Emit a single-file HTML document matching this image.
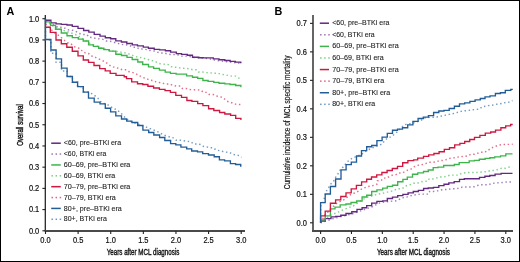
<!DOCTYPE html>
<html><head><meta charset="utf-8"><style>
html,body{margin:0;padding:0;background:#fff;}
svg text{font-family:"Liberation Sans",sans-serif;}
svg{will-change:transform;}
.tk{font-size:8.3px;fill:#111;stroke:#111;stroke-width:0.2px}
.at{fill:#111;stroke:#111;stroke-width:0.38px}
.at2{fill:#1a1a1a;stroke:#1a1a1a;stroke-width:0.2px}
.lg{font-size:7px;fill:#222;stroke:#222;stroke-width:0.1px}
</style></head><body>
<svg width="520" height="262" viewBox="0 0 520 262" style="display:block">
<rect x="0" y="0" width="520" height="262" fill="#fff"/>
<rect x="0.5" y="0.5" width="519" height="261" fill="none" stroke="#000" stroke-width="1"/>
<text x="6.5" y="14.6" font-size="10.8" font-weight="bold" fill="#000">A</text>
<text x="274.4" y="14.8" font-size="10.8" font-weight="bold" fill="#000">B</text>
<path d="M45.3,15V231" fill="none" stroke="#1e1e1e" stroke-width="1.25"/>
<path d="M44.7,231H245" fill="none" stroke="#4a4a4a" stroke-width="1.8"/>
<path d="M42.4,230.80H45.3" stroke="#222" stroke-width="1.1"/>
<text x="39.3" y="233.70" class="tk" text-anchor="end" textLength="10.4" lengthAdjust="spacingAndGlyphs">0.0</text>
<path d="M42.4,209.59H45.3" stroke="#222" stroke-width="1.1"/>
<text x="39.3" y="212.49" class="tk" text-anchor="end" textLength="10.4" lengthAdjust="spacingAndGlyphs">0.1</text>
<path d="M42.4,188.38H45.3" stroke="#222" stroke-width="1.1"/>
<text x="39.3" y="191.28" class="tk" text-anchor="end" textLength="10.4" lengthAdjust="spacingAndGlyphs">0.2</text>
<path d="M42.4,167.17H45.3" stroke="#222" stroke-width="1.1"/>
<text x="39.3" y="170.07" class="tk" text-anchor="end" textLength="10.4" lengthAdjust="spacingAndGlyphs">0.3</text>
<path d="M42.4,145.96H45.3" stroke="#222" stroke-width="1.1"/>
<text x="39.3" y="148.86" class="tk" text-anchor="end" textLength="10.4" lengthAdjust="spacingAndGlyphs">0.4</text>
<path d="M42.4,124.75H45.3" stroke="#222" stroke-width="1.1"/>
<text x="39.3" y="127.65" class="tk" text-anchor="end" textLength="10.4" lengthAdjust="spacingAndGlyphs">0.5</text>
<path d="M42.4,103.54H45.3" stroke="#222" stroke-width="1.1"/>
<text x="39.3" y="106.44" class="tk" text-anchor="end" textLength="10.4" lengthAdjust="spacingAndGlyphs">0.6</text>
<path d="M42.4,82.33H45.3" stroke="#222" stroke-width="1.1"/>
<text x="39.3" y="85.23" class="tk" text-anchor="end" textLength="10.4" lengthAdjust="spacingAndGlyphs">0.7</text>
<path d="M42.4,61.12H45.3" stroke="#222" stroke-width="1.1"/>
<text x="39.3" y="64.02" class="tk" text-anchor="end" textLength="10.4" lengthAdjust="spacingAndGlyphs">0.8</text>
<path d="M42.4,39.91H45.3" stroke="#222" stroke-width="1.1"/>
<text x="39.3" y="42.81" class="tk" text-anchor="end" textLength="10.4" lengthAdjust="spacingAndGlyphs">0.9</text>
<path d="M42.4,18.70H45.3" stroke="#222" stroke-width="1.1"/>
<text x="39.3" y="21.60" class="tk" text-anchor="end" textLength="10.4" lengthAdjust="spacingAndGlyphs">1.0</text>
<path d="M45.50,231V234" stroke="#222" stroke-width="1.1"/>
<text x="45.50" y="242.6" class="tk" text-anchor="middle" textLength="10.4" lengthAdjust="spacingAndGlyphs">0.0</text>
<path d="M78.12,231V234" stroke="#222" stroke-width="1.1"/>
<text x="78.12" y="242.6" class="tk" text-anchor="middle" textLength="10.4" lengthAdjust="spacingAndGlyphs">0.5</text>
<path d="M110.73,231V234" stroke="#222" stroke-width="1.1"/>
<text x="110.73" y="242.6" class="tk" text-anchor="middle" textLength="10.4" lengthAdjust="spacingAndGlyphs">1.0</text>
<path d="M143.34,231V234" stroke="#222" stroke-width="1.1"/>
<text x="143.34" y="242.6" class="tk" text-anchor="middle" textLength="10.4" lengthAdjust="spacingAndGlyphs">1.5</text>
<path d="M175.96,231V234" stroke="#222" stroke-width="1.1"/>
<text x="175.96" y="242.6" class="tk" text-anchor="middle" textLength="10.4" lengthAdjust="spacingAndGlyphs">2.0</text>
<path d="M208.58,231V234" stroke="#222" stroke-width="1.1"/>
<text x="208.58" y="242.6" class="tk" text-anchor="middle" textLength="10.4" lengthAdjust="spacingAndGlyphs">2.5</text>
<path d="M241.19,231V234" stroke="#222" stroke-width="1.1"/>
<text x="241.19" y="242.6" class="tk" text-anchor="middle" textLength="10.4" lengthAdjust="spacingAndGlyphs">3.0</text>
<text x="106.7" y="255.2" class="at" font-size="9" textLength="72.7" lengthAdjust="spacingAndGlyphs">Years after MCL diagnosis</text>
<text transform="translate(23,145.8) rotate(-90)" x="0" y="0" class="at" font-size="9.6" textLength="41.6" lengthAdjust="spacingAndGlyphs">Overall survival</text>
<path d="M313,15V231.9" fill="none" stroke="#555" stroke-width="1.8"/>
<path d="M312.1,231H513" fill="none" stroke="#4a4a4a" stroke-width="1.8"/>
<path d="M310,222.80H312.9" stroke="#222" stroke-width="1.1"/>
<text x="306.9" y="225.70" class="tk" text-anchor="end" textLength="10.4" lengthAdjust="spacingAndGlyphs">0.0</text>
<path d="M310,194.31H312.9" stroke="#222" stroke-width="1.1"/>
<text x="306.9" y="197.21" class="tk" text-anchor="end" textLength="10.4" lengthAdjust="spacingAndGlyphs">0.1</text>
<path d="M310,165.82H312.9" stroke="#222" stroke-width="1.1"/>
<text x="306.9" y="168.72" class="tk" text-anchor="end" textLength="10.4" lengthAdjust="spacingAndGlyphs">0.2</text>
<path d="M310,137.33H312.9" stroke="#222" stroke-width="1.1"/>
<text x="306.9" y="140.23" class="tk" text-anchor="end" textLength="10.4" lengthAdjust="spacingAndGlyphs">0.3</text>
<path d="M310,108.84H312.9" stroke="#222" stroke-width="1.1"/>
<text x="306.9" y="111.74" class="tk" text-anchor="end" textLength="10.4" lengthAdjust="spacingAndGlyphs">0.4</text>
<path d="M310,80.35H312.9" stroke="#222" stroke-width="1.1"/>
<text x="306.9" y="83.25" class="tk" text-anchor="end" textLength="10.4" lengthAdjust="spacingAndGlyphs">0.5</text>
<path d="M310,51.86H312.9" stroke="#222" stroke-width="1.1"/>
<text x="306.9" y="54.76" class="tk" text-anchor="end" textLength="10.4" lengthAdjust="spacingAndGlyphs">0.6</text>
<path d="M310,23.37H312.9" stroke="#222" stroke-width="1.1"/>
<text x="306.9" y="26.27" class="tk" text-anchor="end" textLength="10.4" lengthAdjust="spacingAndGlyphs">0.7</text>
<path d="M320.60,231V234" stroke="#222" stroke-width="1.1"/>
<text x="320.60" y="242.6" class="tk" text-anchor="middle" textLength="10.4" lengthAdjust="spacingAndGlyphs">0.0</text>
<path d="M351.47,231V234" stroke="#222" stroke-width="1.1"/>
<text x="351.47" y="242.6" class="tk" text-anchor="middle" textLength="10.4" lengthAdjust="spacingAndGlyphs">0.5</text>
<path d="M382.33,231V234" stroke="#222" stroke-width="1.1"/>
<text x="382.33" y="242.6" class="tk" text-anchor="middle" textLength="10.4" lengthAdjust="spacingAndGlyphs">1.0</text>
<path d="M413.20,231V234" stroke="#222" stroke-width="1.1"/>
<text x="413.20" y="242.6" class="tk" text-anchor="middle" textLength="10.4" lengthAdjust="spacingAndGlyphs">1.5</text>
<path d="M444.06,231V234" stroke="#222" stroke-width="1.1"/>
<text x="444.06" y="242.6" class="tk" text-anchor="middle" textLength="10.4" lengthAdjust="spacingAndGlyphs">2.0</text>
<path d="M474.93,231V234" stroke="#222" stroke-width="1.1"/>
<text x="474.93" y="242.6" class="tk" text-anchor="middle" textLength="10.4" lengthAdjust="spacingAndGlyphs">2.5</text>
<path d="M505.79,231V234" stroke="#222" stroke-width="1.1"/>
<text x="505.79" y="242.6" class="tk" text-anchor="middle" textLength="10.4" lengthAdjust="spacingAndGlyphs">3.0</text>
<text x="377" y="255.2" class="at" font-size="9" textLength="73" lengthAdjust="spacingAndGlyphs">Years after MCL diagnosis</text>
<text transform="translate(289.7,189.2) rotate(-90)" x="0" y="0" class="at2" font-size="8.6" textLength="133.7" lengthAdjust="spacingAndGlyphs">Cumulative incidence of MCL specific mortality</text>
<path d="M45.50,20.60L50.00,22.50L54.00,25.00L57.80,27.20L61.80,27.20L65.30,28.30L67.60,29.80L71.60,30.10L75.70,31.20L79.00,33.40L83.30,34.50L87.10,34.70L88.60,37.10L92.40,37.60L95.80,38.40L99.60,38.90L103.00,39.40L105.90,41.00L109.30,41.00L112.60,41.90L116.00,42.90L119.50,43.80L123.00,44.60L127.10,45.00L130.00,45.60L132.90,47.30L136.90,47.30L139.20,49.00L142.70,49.00L146.70,49.60L150.20,50.50L154.20,51.00L159.60,52.90L163.70,52.90L167.10,53.80L170.60,54.40L175.20,54.40L178.60,55.00L181.50,56.10L189.00,56.10L193.00,57.50L203.00,58.00L210.40,59.00L214.20,60.00L225.30,61.50L236.30,62.90L241.50,63.00" fill="none" stroke="#6e3a92" stroke-width="1.45" stroke-dasharray="1.45 2.65" opacity="0.66"/>
<path d="M45.50,21.00L50.00,24.00L55.00,27.50L59.00,28.90L62.00,30.00L66.50,31.20L71.10,33.00L77.40,35.30L83.00,39.00L90.50,43.90L97.20,46.30L102.00,48.20L111.70,51.10L119.30,51.60L122.20,52.50L126.30,53.10L129.80,54.20L132.70,55.40L135.20,56.30L138.60,57.50L142.70,57.70L145.60,59.10L150.00,60.00L155.40,61.60L160.00,63.70L164.60,64.30L168.60,64.70L170.90,66.60L175.00,67.20L178.40,67.50L181.90,68.30L185.90,68.40L189.50,68.80L192.50,69.70L196.50,69.70L198.30,72.00L202.30,72.00L205.80,72.60L209.80,72.80L213.80,73.20L217.90,73.20L221.30,74.30L224.80,74.70L228.30,75.50L231.70,76.10L235.70,76.10L238.10,77.80L241.50,79.00" fill="none" stroke="#40b84e" stroke-width="1.45" stroke-dasharray="1.45 2.65" opacity="0.66"/>
<path d="M45.50,24.00L50.00,28.00L53.20,31.80L60.10,36.40L64.70,40.50L67.60,42.80L70.50,43.50L74.50,46.80L78.60,48.00L80.20,50.20L83.10,50.80L85.40,53.10L88.80,53.70L91.10,56.00L94.00,56.50L96.90,58.30L99.80,59.40L102.70,60.60L105.60,62.30L108.40,64.00L110.80,66.30L113.10,66.90L115.90,67.50L119.40,68.60L122.30,69.80L126.30,69.80L128.60,71.50L132.20,72.40L135.80,73.50L138.10,75.30L141.00,76.40L143.30,77.60L146.70,78.70L149.60,80.20L153.10,80.50L156.00,81.80L159.40,82.50L162.50,83.20L165.80,84.00L170.00,84.00L172.70,85.30L176.20,86.10L180.40,86.00L182.30,88.50L186.20,88.50L189.40,89.50L193.10,89.80L197.20,89.80L201.00,90.30L203.30,92.30L206.90,92.40L209.20,94.50L213.30,94.50L216.10,95.90L219.60,96.60L222.50,97.40L224.80,99.20L227.10,101.30L230.00,102.10L233.40,103.30L236.30,104.40L241.50,104.40" fill="none" stroke="#d42048" stroke-width="1.45" stroke-dasharray="1.45 2.65" opacity="0.66"/>
<path d="M45.50,18.70L45.50,40.00L50.90,40.00L50.90,53.30L56.10,53.30L56.10,62.30L61.50,62.30L61.50,71.00L67.10,71.00L67.10,76.50L72.40,76.50L72.40,82.20L77.60,82.20L77.60,86.60L83.30,86.60L83.30,91.70L87.90,91.70L93.60,94.60L97.70,98.10L101.70,102.70L107.50,104.60L110.60,106.70L115.00,109.00L120.40,112.40L125.60,118.20L129.60,121.10L134.20,122.80L140.00,125.00L147.50,127.50L153.30,129.80L158.50,132.10L163.60,135.00L167.10,136.10L170.60,137.30L174.00,137.90L176.30,140.20L180.40,140.20L183.80,140.80L186.70,141.30L190.80,141.70L193.50,144.00L197.50,144.00L201.00,144.60L203.30,146.30L206.70,146.90L210.20,147.80L213.60,147.80L216.00,150.10L219.40,150.60L222.90,151.50L225.80,152.10L229.80,152.50L232.70,154.40L236.10,154.80L239.00,155.60L241.50,157.30" fill="none" stroke="#2e69a4" stroke-width="1.45" stroke-dasharray="1.45 2.65" opacity="0.66"/>
<path d="M45.50,20.20L50.90,20.20L50.90,22.80L56.10,22.80L56.10,23.90L61.30,23.90L61.30,24.30L67.00,24.30L67.00,25.00L72.30,25.00L72.30,26.40L78.00,26.40L78.00,28.40L83.60,28.40L83.60,30.50L88.80,30.50L88.80,32.10L94.20,32.10L94.20,34.40L100.00,34.40L100.00,36.10L105.30,36.10L105.30,37.70L110.60,37.70L110.60,38.70L115.80,38.70L115.80,40.80L121.40,40.80L121.40,42.00L126.80,42.00L126.80,43.50L132.30,43.50L132.30,44.80L137.50,44.80L137.50,45.90L143.30,45.90L143.30,47.10L148.40,47.10L148.40,48.20L154.20,48.20L154.20,49.40L159.60,49.40L159.60,49.80L165.40,49.80L165.40,50.70L170.60,50.70L170.60,52.10L176.30,52.10L176.30,53.60L181.50,53.60L181.50,54.40L187.30,54.40L187.30,55.20L192.50,55.20L192.50,57.20L198.80,57.20L198.80,57.70L203.40,57.70L203.40,57.90L213.30,57.90L213.30,58.80L219.00,58.80L219.00,59.70L224.80,59.70L224.80,60.50L230.10,60.50L230.10,61.40L235.40,61.40L235.40,62.10L240.70,62.10L240.70,62.60L241.50,62.60" fill="none" stroke="#63287f" stroke-width="1.35"/>
<path d="M45.50,21.90L50.60,21.90L50.60,25.40L55.50,25.40L55.50,29.20L61.30,29.20L61.30,33.00L67.00,33.00L67.00,35.70L72.30,35.70L72.30,37.60L78.30,37.60L78.30,39.10L83.20,39.10L83.20,41.00L88.60,41.00L88.60,44.80L93.40,44.80L93.40,46.30L98.70,46.30L98.70,48.20L103.80,48.20L103.80,49.60L109.30,49.60L109.30,51.10L115.80,51.10L115.80,54.20L121.50,54.20L121.50,55.50L127.00,55.50L127.00,57.30L132.20,57.30L132.20,59.50L137.80,59.50L137.80,62.00L142.70,62.00L142.70,64.50L148.50,64.50L148.50,66.80L153.60,66.80L153.60,68.30L159.40,68.30L159.40,70.10L165.20,70.10L165.20,72.10L170.40,72.10L170.40,73.30L176.10,73.30L176.10,74.10L186.60,74.10L186.60,75.80L192.50,75.80L192.50,77.20L197.70,77.20L197.70,78.40L202.90,78.40L202.90,80.50L208.10,80.50L208.10,81.30L213.80,81.30L213.80,82.40L219.00,82.40L219.00,83.20L224.80,83.20L224.80,83.90L230.00,83.90L230.00,84.50L235.70,84.50L235.70,85.50L240.90,85.50L240.90,86.50L241.50,86.50" fill="none" stroke="#3db54b" stroke-width="1.35"/>
<path d="M45.50,27.20L50.30,27.20L50.30,32.40L56.00,32.40L56.00,40.00L61.30,40.00L61.30,43.70L66.80,43.70L66.80,47.20L72.30,47.20L72.30,51.20L78.00,51.20L78.00,55.80L83.30,55.80L83.30,60.00L88.50,60.00L88.50,62.30L94.00,62.30L94.00,65.50L99.70,65.50L99.70,68.60L105.20,68.60L105.20,70.80L110.20,70.80L110.20,73.30L116.00,73.30L116.00,75.30L124.20,75.30L124.20,76.70L126.50,76.70L126.50,78.60L131.70,78.60L131.70,81.80L137.50,81.80L137.50,83.70L142.70,83.70L142.70,84.50L147.90,84.50L147.90,86.20L153.60,86.20L153.60,88.00L159.40,88.00L159.40,89.30L165.00,89.30L165.00,90.60L170.40,90.60L170.40,92.30L175.80,92.30L175.80,95.40L181.50,95.40L181.50,97.30L186.90,97.30L186.90,100.50L191.90,100.50L191.90,101.30L197.70,101.30L197.70,103.60L202.90,103.60L202.90,105.60L208.60,105.60L208.60,108.70L213.80,108.70L213.80,110.50L219.60,110.50L219.60,112.50L224.80,112.50L224.80,114.00L230.60,114.00L230.60,115.40L235.70,115.40L235.70,118.30L240.90,118.30L240.90,119.40L241.50,119.40" fill="none" stroke="#cf1841" stroke-width="1.35"/>
<path d="M45.50,18.70L45.50,18.70L45.50,39.50L50.90,39.50L50.90,50.00L56.10,50.00L56.10,58.80L61.50,58.80L61.50,68.10L67.10,68.10L67.10,76.50L72.40,76.50L72.40,82.20L77.60,82.20L77.60,86.60L83.30,86.60L83.30,92.10L88.50,92.10L88.50,98.10L94.20,98.10L94.20,102.10L100.00,102.10L100.00,103.80L105.30,103.80L105.30,108.20L110.60,108.20L110.60,111.80L115.80,111.80L115.80,115.90L121.50,115.90L121.50,119.00L126.70,119.00L126.70,121.10L131.90,121.10L131.90,122.50L137.70,122.50L137.70,125.50L142.90,125.50L142.90,130.10L148.70,130.10L148.70,132.50L153.80,132.50L153.80,135.00L159.60,135.00L159.60,137.50L164.80,137.50L164.80,140.50L170.60,140.50L170.60,143.60L175.80,143.60L175.80,144.80L180.90,144.80L180.90,147.10L186.70,147.10L186.70,148.80L191.70,148.80L191.70,151.00L197.50,151.00L197.50,151.80L202.70,151.80L202.70,153.60L208.50,153.60L208.50,155.00L214.20,155.00L214.20,156.70L219.40,156.70L219.40,159.80L224.60,159.80L224.60,160.80L230.40,160.80L230.40,163.60L235.60,163.60L235.60,164.50L240.70,164.50L240.70,166.00L241.50,166.00" fill="none" stroke="#235d98" stroke-width="1.35"/>
<path d="M320.60,222.80L334.20,218.30L353.50,213.50L372.70,206.50L379.20,203.10L385.00,201.90L389.60,201.30L396.50,200.80L402.30,197.90L405.80,197.30L412.70,195.20L418.40,194.40L420.00,194.10L428.70,194.10L429.60,191.40L433.50,191.40L437.30,190.90L440.20,190.20L444.00,189.50L447.90,189.50L451.30,188.70L455.60,188.70L459.40,188.30L462.30,187.00L470.40,187.00L474.10,186.80L477.40,185.50L480.60,184.80L488.70,184.80L491.40,183.50L495.70,183.00L499.40,182.70L503.20,182.50L507.00,181.90L512.50,181.90" fill="none" stroke="#6e3a92" stroke-width="1.45" stroke-dasharray="1.45 2.65" opacity="0.66"/>
<path d="M320.60,222.80L325.00,219.00L330.40,215.40L343.80,209.60L353.50,205.80L363.30,199.20L367.90,196.90L371.70,196.10L376.90,194.40L382.70,193.30L387.30,192.10L392.50,191.00L397.70,188.70L402.30,188.70L404.60,186.30L410.50,184.50L413.40,183.30L417.30,183.30L420.20,182.10L423.40,181.30L427.70,181.30L429.10,178.90L433.00,178.90L436.80,177.90L440.20,177.00L443.60,177.00L447.40,176.00L450.00,175.10L458.20,175.10L461.80,173.30L465.00,172.80L468.20,172.50L476.30,172.50L480.10,172.20L483.80,171.90L487.60,171.50L490.80,170.40L494.60,170.40L498.40,169.30L501.60,168.20L505.40,168.20L508.60,167.20L512.50,166.80" fill="none" stroke="#40b84e" stroke-width="1.45" stroke-dasharray="1.45 2.65" opacity="0.66"/>
<path d="M320.60,222.80L325.00,215.00L330.40,209.60L337.30,202.70L343.70,199.80L350.60,194.60L356.40,192.30L362.10,188.80L367.90,186.50L371.70,186.00L376.90,184.20L377.40,180.70L381.20,180.70L383.10,178.10L387.00,178.10L389.40,176.30L392.30,175.20L396.10,174.60L398.50,173.00L402.40,173.00L405.30,171.50L407.70,170.10L411.00,169.10L413.40,166.90L416.30,166.30L419.20,164.80L423.10,164.50L426.40,163.30L429.30,162.30L433.20,162.30L436.50,161.70L439.90,160.50L443.70,160.40L447.10,159.40L450.10,158.30L454.10,157.80L457.60,157.10L461.00,156.70L464.40,156.30L468.30,155.80L470.70,154.20L474.50,154.20L477.90,153.20L481.20,152.20L485.10,152.20L487.50,150.00L490.40,149.30L492.80,147.40L495.70,146.20L498.50,145.20L502.40,144.50L512.70,144.30" fill="none" stroke="#d42048" stroke-width="1.45" stroke-dasharray="1.45 2.65" opacity="0.66"/>
<path d="M320.60,222.80L320.70,206.00L322.70,203.80L326.40,191.10L331.00,183.70L333.30,181.90L336.20,176.20L338.10,173.80L341.00,168.60L343.30,166.90L346.70,162.30L351.30,158.80L357.10,156.00L361.10,154.80L364.60,151.90L369.80,149.00L376.00,146.50L382.10,144.00L385.60,139.40L391.30,136.50L396.00,133.10L400.00,129.00L404.20,124.80L410.00,123.60L415.20,122.50L420.40,120.80L425.00,117.90L429.60,117.30L434.20,117.30L438.80,116.70L443.40,115.60L449.20,114.40L454.40,113.30L460.70,111.40L464.70,110.80L469.30,110.30L475.10,109.50L479.70,109.10L482.00,106.80L486.60,106.00L488.20,105.60L492.20,105.20L495.40,104.40L499.10,104.00L502.30,103.40L505.90,102.40L509.60,102.10L512.50,100.50" fill="none" stroke="#2e69a4" stroke-width="1.45" stroke-dasharray="1.45 2.65" opacity="0.66"/>
<path d="M320.60,221.00L325.20,221.00L325.20,218.60L331.00,218.60L331.00,216.90L335.60,216.90L335.60,216.30L340.80,216.30L340.80,215.20L346.00,215.20L346.00,213.50L351.80,213.50L351.80,211.70L357.00,211.70L357.00,209.40L362.10,209.40L362.10,207.70L366.70,207.70L366.70,205.60L371.70,205.60L371.70,203.10L376.90,203.10L376.90,201.30L382.70,201.30L382.70,200.80L387.30,200.80L387.30,198.50L392.50,198.50L392.50,197.10L397.70,197.10L397.70,195.60L402.90,195.60L402.90,194.40L408.10,194.40L408.10,192.90L413.30,192.90L413.30,191.50L418.40,191.50L418.40,190.40L423.60,190.40L423.60,190.40L423.60,188.50L428.20,188.50L428.20,188.00L433.50,188.00L433.50,187.30L438.80,187.30L438.80,185.60L444.00,185.60L444.00,184.20L448.80,184.20L448.80,182.80L454.20,182.80L454.20,181.60L459.50,181.60L459.50,179.40L464.30,179.40L464.30,178.70L479.50,178.70L479.50,177.30L484.90,177.30L484.90,176.20L489.80,176.20L489.80,175.50L495.10,175.50L495.10,174.10L501.10,174.10L501.10,173.30L512.50,173.30" fill="none" stroke="#63287f" stroke-width="1.35"/>
<path d="M320.60,219.80L325.20,219.80L325.20,215.80L330.40,215.80L330.40,208.80L335.00,208.80L335.00,207.10L340.20,207.10L340.20,204.80L346.00,204.80L346.00,204.00L351.00,204.00L351.00,202.50L356.60,202.50L356.60,201.00L362.10,201.00L362.10,197.00L366.70,197.00L366.70,195.20L371.70,195.20L371.70,191.50L376.90,191.50L376.90,189.80L382.70,189.80L382.70,188.10L387.30,188.10L387.30,186.30L392.50,186.30L392.50,185.20L397.70,185.20L397.70,181.70L402.90,181.70L402.90,179.40L407.30,179.40L407.30,177.10L412.50,177.10L412.50,174.20L417.70,174.20L417.70,172.50L417.70,172.90L423.50,172.90L423.50,171.50L428.30,171.50L428.30,170.00L433.20,170.00L433.20,167.60L438.00,167.60L438.00,167.10L443.70,167.10L443.70,165.50L454.30,165.50L454.30,164.50L459.20,164.50L459.20,162.60L469.20,162.60L469.20,160.90L474.50,160.90L474.50,160.30L479.30,160.30L479.30,159.20L485.10,159.20L485.10,158.40L489.90,158.40L489.90,157.70L494.70,157.70L494.70,156.80L500.50,156.80L500.50,155.80L505.80,155.80L505.80,153.90L512.50,153.90" fill="none" stroke="#3db54b" stroke-width="1.35"/>
<path d="M320.60,222.80L320.60,215.80L325.20,215.80L325.20,211.10L330.40,211.10L330.40,203.20L335.60,203.20L335.60,199.80L340.80,199.80L340.80,196.50L346.00,196.50L346.00,192.90L351.20,192.90L351.20,188.80L356.40,188.80L356.40,185.40L361.60,185.40L361.60,181.90L366.70,181.90L366.70,179.20L371.50,179.20L371.50,177.00L376.70,177.00L376.70,174.80L381.90,174.80L381.90,172.50L387.10,172.50L387.10,170.50L392.30,170.50L392.30,168.50L397.50,168.50L397.50,166.40L402.70,166.40L402.70,162.70L407.90,162.70L407.90,160.60L413.60,160.60L413.60,159.80L417.70,159.80L417.70,158.10L417.70,158.10L423.50,158.10L423.50,156.30L428.70,156.30L428.70,154.80L433.90,154.80L433.90,153.50L439.10,153.50L439.10,151.70L444.30,151.70L444.30,149.40L449.50,149.40L449.50,147.70L454.70,147.70L454.70,144.80L459.90,144.80L459.90,143.30L464.70,143.30L464.70,141.50L469.70,141.50L469.70,139.50L474.50,139.50L474.50,137.40L479.90,137.40L479.90,135.40L485.30,135.40L485.30,133.10L490.70,133.10L490.70,132.00L495.50,132.00L495.50,130.10L500.90,130.10L500.90,127.70L505.70,127.70L505.70,125.80L510.60,125.80L510.60,124.50L512.70,124.50" fill="none" stroke="#cf1841" stroke-width="1.35"/>
<path d="M320.60,222.80L320.60,202.60L325.20,202.60L325.20,194.00L330.40,194.00L330.40,186.50L335.60,186.50L335.60,179.00L341.00,179.00L341.00,169.80L346.10,169.80L346.10,164.60L351.30,164.60L351.30,162.10L356.50,162.10L356.50,156.00L361.50,156.00L361.50,150.60L366.70,150.60L366.70,146.70L371.70,146.70L371.70,145.50L376.90,145.50L376.90,140.60L382.10,140.60L382.10,137.10L387.30,137.10L387.30,133.30L392.50,133.30L392.50,130.20L397.50,130.20L397.50,129.10L402.50,129.10L402.50,127.70L407.70,127.70L407.70,124.80L412.90,124.80L412.90,121.30L418.10,121.30L418.10,118.50L423.30,118.50L423.30,117.10L428.40,117.10L428.40,115.60L433.60,115.60L433.60,112.50L438.80,112.50L438.80,111.00L444.00,111.00L444.00,110.40L449.20,110.40L449.20,108.50L454.40,108.50L454.40,106.20L459.50,106.20L459.50,103.90L464.70,103.90L464.70,102.80L469.90,102.80L469.90,101.40L475.10,101.40L475.10,99.90L480.30,99.90L480.30,98.50L485.00,98.50L485.00,96.80L490.00,96.80L490.00,95.90L495.40,95.90L495.40,93.50L500.40,93.50L500.40,92.70L505.30,92.70L505.30,90.30L510.80,90.30L510.80,89.40L512.80,89.40" fill="none" stroke="#235d98" stroke-width="1.35"/>
<path d="M51.2,143.20H60.8" stroke="#63287f" stroke-width="1.5"/>
<text x="63.8" y="145.30" class="lg" textLength="57.3" lengthAdjust="spacingAndGlyphs">&lt;60, pre–BTKi era</text>
<rect x="51.45" y="153.32" width="1.5" height="1.5" fill="#6e3a92" opacity="0.7"/>
<rect x="55.55" y="153.32" width="1.5" height="1.5" fill="#6e3a92" opacity="0.7"/>
<rect x="59.65" y="153.32" width="1.5" height="1.5" fill="#6e3a92" opacity="0.7"/>
<text x="63.8" y="156.17" class="lg" textLength="42.5" lengthAdjust="spacingAndGlyphs">&lt;60, BTKi era</text>
<path d="M51.2,164.94H60.8" stroke="#3db54b" stroke-width="1.5"/>
<text x="63.8" y="167.04" class="lg" textLength="66.6" lengthAdjust="spacingAndGlyphs">60–69, pre–BTKi era</text>
<rect x="51.45" y="175.06" width="1.5" height="1.5" fill="#40b84e" opacity="0.7"/>
<rect x="55.55" y="175.06" width="1.5" height="1.5" fill="#40b84e" opacity="0.7"/>
<rect x="59.65" y="175.06" width="1.5" height="1.5" fill="#40b84e" opacity="0.7"/>
<text x="63.8" y="177.91" class="lg" textLength="51.5" lengthAdjust="spacingAndGlyphs">60–69, BTKi era</text>
<path d="M51.2,186.68H60.8" stroke="#cf1841" stroke-width="1.5"/>
<text x="63.8" y="188.78" class="lg" textLength="66.6" lengthAdjust="spacingAndGlyphs">70–79, pre–BTKi era</text>
<rect x="51.45" y="196.80" width="1.5" height="1.5" fill="#d42048" opacity="0.7"/>
<rect x="55.55" y="196.80" width="1.5" height="1.5" fill="#d42048" opacity="0.7"/>
<rect x="59.65" y="196.80" width="1.5" height="1.5" fill="#d42048" opacity="0.7"/>
<text x="63.8" y="199.65" class="lg" textLength="52" lengthAdjust="spacingAndGlyphs">70–79, BTKi era</text>
<path d="M51.2,208.42H60.8" stroke="#235d98" stroke-width="1.5"/>
<text x="63.8" y="210.52" class="lg" textLength="58" lengthAdjust="spacingAndGlyphs">80+, pre–BTKi era</text>
<rect x="51.45" y="218.54" width="1.5" height="1.5" fill="#2e69a4" opacity="0.7"/>
<rect x="55.55" y="218.54" width="1.5" height="1.5" fill="#2e69a4" opacity="0.7"/>
<rect x="59.65" y="218.54" width="1.5" height="1.5" fill="#2e69a4" opacity="0.7"/>
<text x="63.8" y="221.39" class="lg" textLength="43" lengthAdjust="spacingAndGlyphs">80+, BTKi era</text>
<path d="M319.8,23.20H329" stroke="#63287f" stroke-width="1.5"/>
<text x="332.2" y="25.30" class="lg" textLength="57.3" lengthAdjust="spacingAndGlyphs">&lt;60, pre–BTKi era</text>
<rect x="320.05" y="34.04" width="1.5" height="1.5" fill="#6e3a92" opacity="0.7"/>
<rect x="324.15" y="34.04" width="1.5" height="1.5" fill="#6e3a92" opacity="0.7"/>
<rect x="328.25" y="34.04" width="1.5" height="1.5" fill="#6e3a92" opacity="0.7"/>
<text x="332.2" y="36.89" class="lg" textLength="42.5" lengthAdjust="spacingAndGlyphs">&lt;60, BTKi era</text>
<path d="M319.8,46.38H329" stroke="#3db54b" stroke-width="1.5"/>
<text x="332.2" y="48.48" class="lg" textLength="66.6" lengthAdjust="spacingAndGlyphs">60–69, pre–BTKi era</text>
<rect x="320.05" y="57.22" width="1.5" height="1.5" fill="#40b84e" opacity="0.7"/>
<rect x="324.15" y="57.22" width="1.5" height="1.5" fill="#40b84e" opacity="0.7"/>
<rect x="328.25" y="57.22" width="1.5" height="1.5" fill="#40b84e" opacity="0.7"/>
<text x="332.2" y="60.07" class="lg" textLength="51.5" lengthAdjust="spacingAndGlyphs">60–69, BTKi era</text>
<path d="M319.8,69.56H329" stroke="#cf1841" stroke-width="1.5"/>
<text x="332.2" y="71.66" class="lg" textLength="66.6" lengthAdjust="spacingAndGlyphs">70–79, pre–BTKi era</text>
<rect x="320.05" y="80.40" width="1.5" height="1.5" fill="#d42048" opacity="0.7"/>
<rect x="324.15" y="80.40" width="1.5" height="1.5" fill="#d42048" opacity="0.7"/>
<rect x="328.25" y="80.40" width="1.5" height="1.5" fill="#d42048" opacity="0.7"/>
<text x="332.2" y="83.25" class="lg" textLength="52" lengthAdjust="spacingAndGlyphs">70–79, BTKi era</text>
<path d="M319.8,92.74H329" stroke="#235d98" stroke-width="1.5"/>
<text x="332.2" y="94.84" class="lg" textLength="58" lengthAdjust="spacingAndGlyphs">80+, pre–BTKi era</text>
<rect x="320.05" y="103.58" width="1.5" height="1.5" fill="#2e69a4" opacity="0.7"/>
<rect x="324.15" y="103.58" width="1.5" height="1.5" fill="#2e69a4" opacity="0.7"/>
<rect x="328.25" y="103.58" width="1.5" height="1.5" fill="#2e69a4" opacity="0.7"/>
<text x="332.2" y="106.43" class="lg" textLength="43" lengthAdjust="spacingAndGlyphs">80+, BTKi era</text>
</svg>
</body></html>
